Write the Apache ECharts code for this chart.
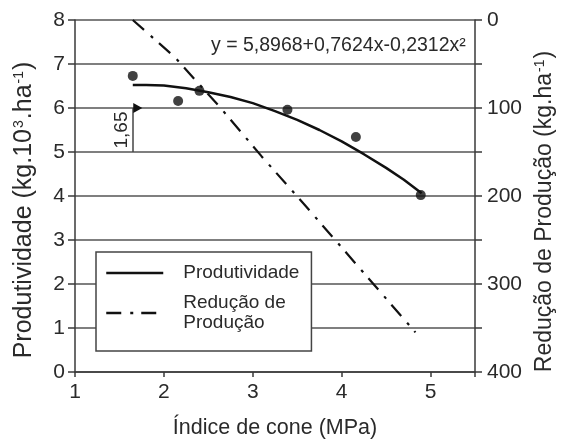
<!DOCTYPE html>
<html>
<head>
<meta charset="utf-8">
<script src="https://cdn.jsdelivr.net/npm/echarts@6/dist/echarts.min.js"></script>
<style>
html,body{margin:0;padding:0;background:#fff;}
#chart{width:564px;height:445px;}
</style>
</head>
<body>
<div id="chart"></div>
<script>
// Observed points (Índice de cone, Produtividade)
const obsX = [1.65, 2.16, 2.40, 3.39, 4.16, 4.89];
const obsY = [6.73, 6.16, 6.39, 5.96, 5.34, 4.02];
// Fitted curve
const fitX = [1.65, 1.8, 2.0, 2.25, 2.5, 2.75, 3.0, 3.25, 3.5, 3.75, 4.0, 4.25, 4.5, 4.7, 4.9];
const fitY = [6.52, 6.52, 6.51, 6.45, 6.36, 6.25, 6.11, 5.93, 5.73, 5.50, 5.24, 4.95, 4.64, 4.37, 4.06];
// Redução de Produção
const redX = [1.65, 2.12, 2.37, 2.63, 3.10, 3.60, 4.34, 4.83];
const redY = [0, 42, 70, 99, 155, 212, 298, 355];
// Tick labels
const xTicks = [1, 2, 3, 4, 5];
const yLeftTicks = [0, 1, 2, 3, 4, 5, 6, 7, 8];
const yRightTicks = [0, 100, 200, 300, 400];
const annotX = 1.65;

const FONT = 'Liberation Sans, Arial, sans-serif';
const TXT = '#2a2a2a';
const AX = '#3a3a3a';

const chart = echarts.init(document.getElementById('chart'), null, {renderer: 'canvas'});
const zip = (a, b) => a.map((v, i) => [v, b[i]]);

const supStyle = {fontFamily: FONT, fontSize: 14, color: TXT, verticalAlign: 'top', padding: [0, 1, 8, 1]};

const option = {
  animation: false,
  backgroundColor: '#fff',
  textStyle: {fontFamily: FONT},
  grid: {left: 75, right: 89, top: 20, bottom: 73, containLabel: false},
  title: {
    text: 'y = 5,8968+0,7624x-0,2312x²',
    left: 206, top: 31,
    textStyle: {fontFamily: FONT, fontSize: 19.5, fontWeight: 'normal', color: TXT}
  },
  legend: {
    orient: 'vertical',
    left: 96, top: 252,
    padding: [11, 12, 8, 9],
    itemGap: 0,
    itemWidth: 57, itemHeight: 14,
    backgroundColor: '#fff',
    borderColor: '#444', borderWidth: 1.5,
    itemStyle: {opacity: 0},
    lineStyle: {width: 2.5},
    textStyle: {fontFamily: FONT, fontSize: 19, color: TXT, lineHeight: 20, padding: [0, 0, 0, 15]},
    data: [
      {name: 'Produtividade'},
      {name: 'Redução de Produção', textStyle: {padding: [20, 0, 0, 15]}}
    ],
    formatter: function (n) { return n === 'Redução de Produção' ? 'Redução de\nProdução' : n; }
  },
  xAxis: {
    type: 'value', min: xTicks[0], max: 5.5, interval: 1,
    name: 'Índice de cone (MPa)', nameLocation: 'middle', nameGap: 45,
    nameTextStyle: {fontFamily: FONT, fontSize: 21.5, color: TXT},
    axisLine: {show: true, lineStyle: {color: AX, width: 1.5}},
    axisTick: {show: true, length: 5, lineStyle: {color: AX, width: 1.5}},
    axisLabel: {fontFamily: FONT, fontSize: 21, color: TXT, margin: 10,
      formatter: v => xTicks.includes(v) ? String(v) : ''},
    splitLine: {show: false}
  },
  yAxis: [
    {
      type: 'value', min: yLeftTicks[0], max: 8, interval: 1,
      name: 'Produtividade (kg.10{sup|3}.ha{sup|-1})', nameLocation: 'middle', nameGap: 38,
      nameTextStyle: {fontFamily: FONT, fontSize: 25, color: TXT, padding: [0, 28, 0, 0],
        rich: {sup: supStyle}},
      axisLine: {show: true, lineStyle: {color: AX, width: 1.5}},
      axisTick: {show: true, length: 7, lineStyle: {color: AX, width: 1.5}},
      axisLabel: {fontFamily: FONT, fontSize: 21, color: TXT, margin: 10,
        formatter: v => yLeftTicks.includes(v) ? String(v) : ''},
      splitLine: {show: true, lineStyle: {color: '#555', width: 1.5}}
    },
    {
      type: 'value', min: yRightTicks[0], max: 400, interval: 50, inverse: true, position: 'right',
      name: 'Redução de Produção (kg.ha{sup|-1})', nameLocation: 'middle', nameGap: 55, nameRotate: 90,
      nameTextStyle: {fontFamily: FONT, fontSize: 23, color: TXT, padding: [0, 31, 0, 0],
        rich: {sup: supStyle}},
      axisLine: {show: true, lineStyle: {color: AX, width: 1.5}},
      axisTick: {show: true, length: 7, lineStyle: {color: AX, width: 1.5}},
      axisLabel: {fontFamily: FONT, fontSize: 21, color: TXT, margin: 12,
        formatter: v => yRightTicks.includes(v) ? String(v) : ''},
      splitLine: {show: false}
    }
  ],
  series: [
    {
      name: 'obs', type: 'scatter', yAxisIndex: 0,
      data: zip(obsX, obsY),
      symbol: 'circle', symbolSize: 10,
      itemStyle: {color: '#111'},
      z: 5,
      markLine: {
        silent: true, symbol: ['none', 'none'],
        lineStyle: {color: '#444', width: 1.5, type: 'solid'},
        label: {show: true, position: 'middle', formatter: '1,65', fontFamily: FONT, fontSize: 19, color: TXT, distance: 2},
        data: [[{coord: [annotX, 5]}, {coord: [annotX, 6]}]]
      },
      markPoint: {
        silent: true,
        symbol: 'triangle', symbolSize: [10, 9], symbolRotate: -90, symbolOffset: [5, 0],
        itemStyle: {color: '#111'},
        label: {show: false},
        data: [{coord: [annotX, 6]}]
      }
    },
    {
      name: 'Produtividade', type: 'line', yAxisIndex: 0,
      data: zip(fitX, fitY), smooth: false, symbol: 'none',
      itemStyle: {color: '#111'},
      lineStyle: {color: '#111', width: 2.5}
    },
    {
      name: 'Redução de Produção', type: 'line', yAxisIndex: 1,
      data: zip(redX, redY), smooth: false, symbol: 'none',
      itemStyle: {color: '#111'},
      lineStyle: {color: '#111', width: 2.2, type: [15, 9, 3, 8]}
    }
  ]
};
chart.setOption(option);
</script>
</body>
</html>
